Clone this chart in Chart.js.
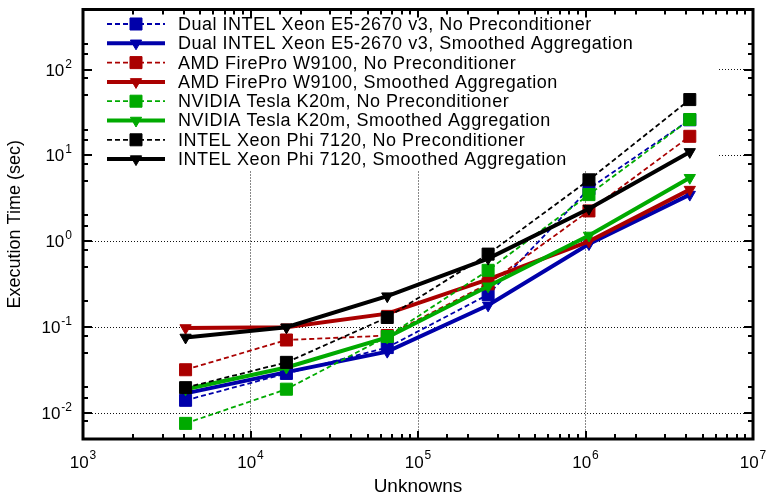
<!DOCTYPE html>
<html><head><meta charset="utf-8">
<script src="https://cdn.jsdelivr.net/npm/chart.js@4.4.0/dist/chart.umd.min.js"></script>
<style>html,body{margin:0;padding:0;background:#fff}#wrap{width:770px;height:495px}</style>
</head><body><div id="wrap"><canvas id="c" width="770" height="495"></canvas></div>
<script>
// ---- data ----
const unknowns = [4096, 16384, 65536, 262144, 1048576, 4194304];

const xeonNoPrec = [0.0141, 0.029, 0.058, 0.24, 4.1, 26];
const xeonSA     = [0.017, 0.030, 0.052, 0.18, 0.93, 3.5];
const amdNoPrec  = [0.032, 0.071, 0.080, 0.32, 2.26, 16.7];
const amdSA      = [0.098, 0.100, 0.144, 0.36, 1.0, 4.0];
const nvNoPrec   = [0.0076, 0.019, 0.078, 0.46, 3.5, 26.2];
const nvSA       = [0.019, 0.034, 0.076, 0.30, 1.17, 5.5];
const phiNoPrec  = [0.0198, 0.039, 0.13, 0.71, 5.2, 44.7];
const phiSA      = [0.076, 0.100, 0.23, 0.63, 2.4, 11];

const seriesLabels = [
  'Dual INTEL Xeon E5-2670 v3, No Preconditioner',
  'Dual INTEL Xeon E5-2670 v3, Smoothed Aggregation',
  'AMD FirePro W9100, No Preconditioner',
  'AMD FirePro W9100, Smoothed Aggregation',
  'NVIDIA Tesla K20m, No Preconditioner',
  'NVIDIA Tesla K20m, Smoothed Aggregation',
  'INTEL Xeon Phi 7120, No Preconditioner',
  'INTEL Xeon Phi 7120, Smoothed Aggregation'
];
const seriesValues = [xeonNoPrec, xeonSA, amdNoPrec, amdSA, nvNoPrec, nvSA, phiNoPrec, phiSA];
const xAxisTitle = 'Unknowns';
const yAxisTitle = 'Execution Time (sec)';
const xRange = [1e3, 1e7];
const yRange = [0.005, 500];
const tickBase = '10';

// ---- styles ----
const colors = ['#0000aa','#0000aa','#aa0000','#aa0000','#00aa00','#00aa00','#000000','#000000'];
const FONT = '"Liberation Sans", Arial, Helvetica, sans-serif';
function mant(v){ const e = Math.floor(Math.log10(v) + 1e-9); return Math.round(v / Math.pow(10, e)); }
function isMajor(v){ const e = Math.log10(v); return Math.abs(e - Math.round(e)) < 1e-6; }
function expOf(v){ return String(Math.round(Math.log10(v))); }

const datasets = seriesValues.map((vals, i) => {
  const dashed = i % 2 === 0;
  return {
    label: seriesLabels[i],
    data: unknowns.map((x, k) => ({x, y: vals[k]})),
    borderColor: colors[i],
    backgroundColor: colors[i],
    borderWidth: dashed ? 1.8 : 4,
    borderDash: dashed ? [5, 3] : [],
    pointStyle: dashed ? 'rect' : 'triangle',
    rotation: dashed ? 0 : 180,
    pointRadius: dashed ? 8.5 : 6.5,
    pointBorderWidth: 1,
    pointBorderColor: colors[i],
    pointBackgroundColor: colors[i],
    fill: false,
    tension: 0,
    order: seriesValues.length - i
  };
});

function drawMarker(ctx, style, x, y, color) {
  ctx.save();
  ctx.fillStyle = color; ctx.strokeStyle = color; ctx.lineWidth = 1; ctx.setLineDash([]);
  ctx.beginPath();
  if (style === 'rect') {
    const s = 8.5 * Math.SQRT1_2;
    ctx.rect(x - s, y - s, 2 * s, 2 * s);
  } else {
    const r = 6.5;
    ctx.moveTo(x, y + r);
    ctx.lineTo(x - r * Math.sin(Math.PI / 3), y - r / 2);
    ctx.lineTo(x + r * Math.sin(Math.PI / 3), y - r / 2);
    ctx.closePath();
  }
  ctx.fill(); ctx.stroke();
  ctx.restore();
}

const keyPlugin = {
  id: 'keyBox',
  beforeDatasetsDraw(chart) {
    const {ctx, chartArea: a} = chart;
    ctx.save();
    ctx.fillStyle = '#fff';
    ctx.fillRect(a.left + 8, a.top + 8, 718 - a.left - 8, 170 - a.top - 8);
    ctx.font = '18px ' + FONT;
    try { ctx.letterSpacing = '0.5px'; } catch (e) {}
    ctx.textBaseline = 'middle';
    ctx.textAlign = 'left';
    chart.data.datasets.forEach((ds, i) => {
      const y = 24 + i * 19.3;
      ctx.strokeStyle = ds.borderColor;
      ctx.lineWidth = ds.borderWidth;
      ctx.setLineDash(ds.borderDash);
      ctx.beginPath(); ctx.moveTo(107, y); ctx.lineTo(165, y); ctx.stroke();
      ctx.setLineDash([]);
      drawMarker(ctx, ds.pointStyle, 136, y, ds.borderColor);
      ctx.fillStyle = '#000';
      ctx.fillText(ds.label, 178, y + 1);
    });
    ctx.restore();
  }
};

const framePlugin = {
  id: 'frameTicks',
  afterDraw(chart) {
    const {ctx, chartArea: a, scales} = chart;
    ctx.save();
    ctx.strokeStyle = '#000';
    ctx.setLineDash([]);
    ctx.lineWidth = 2;
    ctx.beginPath();
    scales.x.ticks.forEach(t => {
      const maj = isMajor(t.value);
      const len = maj ? 8 : 5;
      const p = Math.round(scales.x.getPixelForValue(t.value));
      ctx.moveTo(p, a.bottom); ctx.lineTo(p, a.bottom - len);
      ctx.moveTo(p, a.top); ctx.lineTo(p, a.top + len);
    });
    scales.y.ticks.forEach(t => {
      const maj = isMajor(t.value);
      const m = mant(t.value);
      if (!maj && m !== 2 && m !== 5 && m !== 8) return;
      const len = maj ? 9 : 5;
      const p = Math.round(scales.y.getPixelForValue(t.value));
      ctx.moveTo(a.left, p); ctx.lineTo(a.left + len, p);
      ctx.moveTo(a.right, p); ctx.lineTo(a.right - len, p);
    });
    ctx.stroke();
    ctx.lineWidth = 3;
    ctx.strokeRect(a.left, a.top, a.right - a.left, a.bottom - a.top);

    // tick labels: 10 with raised exponent
    ctx.fillStyle = '#000';
    ctx.textBaseline = 'alphabetic';
    const big = '17px ' + FONT, small = '12px ' + FONT;
    scales.x.ticks.forEach(t => {
      if (!isMajor(t.value)) return;
      const p = scales.x.getPixelForValue(t.value);
      const e = expOf(t.value);
      ctx.font = big; const wb = ctx.measureText(tickBase).width;
      ctx.font = small; const we = ctx.measureText(e).width;
      const x0 = p - (wb + 1 + we) / 2;
      ctx.textAlign = 'left';
      ctx.font = big; ctx.fillText(tickBase, x0, a.bottom + 29);
      ctx.font = small; ctx.fillText(e, x0 + wb + 1, a.bottom + 20);
    });
    scales.y.ticks.forEach(t => {
      if (!isMajor(t.value)) return;
      const p = scales.y.getPixelForValue(t.value);
      const e = expOf(t.value);
      const right = a.left - 11;
      ctx.font = small; const we = ctx.measureText(e).width;
      ctx.textAlign = 'left';
      ctx.fillText(e, right - we, p - 2);
      ctx.textAlign = 'right';
      ctx.font = big; ctx.fillText(tickBase, right - we - 1, p + 6);
    });
    ctx.restore();
  }
};

const gridColor = c => (c.tick && isMajor(c.tick.value)) ? '#111' : 'rgba(0,0,0,0)';
const zeroPad = s => { s.paddingTop = 0; s.paddingBottom = 0; s.paddingLeft = 0; s.paddingRight = 0; };

new Chart(document.getElementById('c'), {
  type: 'line',
  data: { datasets },
  options: {
    responsive: false,
    animation: false,
    layout: { padding: { left: 0, right: 17, top: 6, bottom: 0 } },
    plugins: { legend: { display: false }, tooltip: { enabled: false } },
    scales: {
      x: {
        type: 'logarithmic', min: xRange[0], max: xRange[1],
        afterFit: s => { s.height = 56; zeroPad(s); },
        grid: { color: gridColor, lineWidth: 1, drawTicks: false },
        border: { display: false, dash: [1, 2] },
        ticks: { display: false, autoSkip: false },
        title: { display: true, text: xAxisTitle, color: '#000',
                 font: { family: FONT, size: 19, lineHeight: 1 }, padding: { top: 0, bottom: -1 } }
      },
      y: {
        type: 'logarithmic', min: yRange[0], max: yRange[1],
        afterFit: s => { s.width = 83; zeroPad(s); },
        grid: { color: gridColor, lineWidth: 1, drawTicks: false },
        border: { display: false, dash: [1, 2] },
        ticks: { display: false, autoSkip: false },
        title: { display: true, text: yAxisTitle, color: '#000',
                 font: { family: FONT, size: 18, lineHeight: 1.2 }, padding: { top: 4, bottom: 0 } }
      }
    }
  },
  plugins: [keyPlugin, framePlugin]
});
</script></body></html>
